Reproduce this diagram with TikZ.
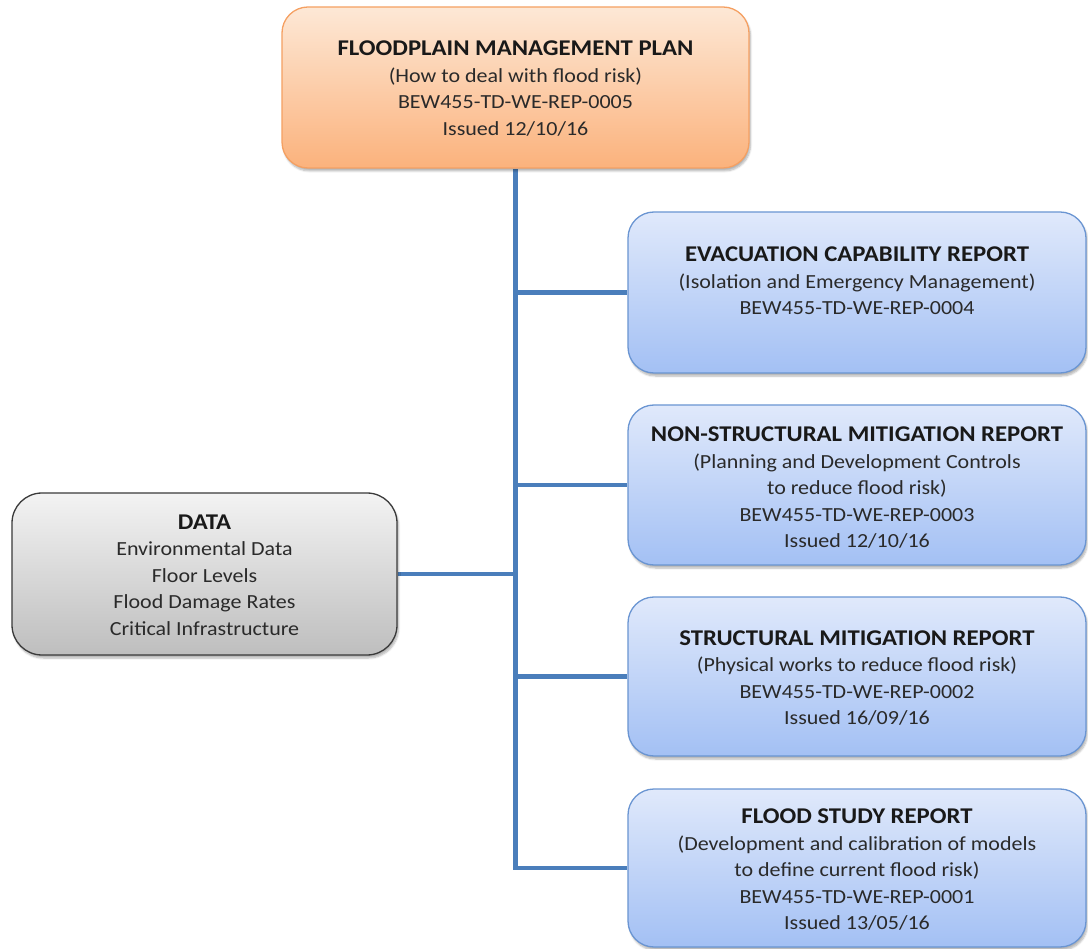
\documentclass[tikz,border=0pt]{standalone}
\usepackage{fontspec}
\setmainfont{Carlito}[FakeStretch=1.1]
\usetikzlibrary{shadows.blur,backgrounds}
\definecolor{orTop}{HTML}{FDE8D6}
\definecolor{orBot}{HTML}{FBB27C}
\definecolor{orLine}{HTML}{F5A062}
\definecolor{blTop}{HTML}{E0E9FB}
\definecolor{blBot}{HTML}{A3C0F4}
\definecolor{blLine}{HTML}{6A95D2}
\definecolor{grTop}{HTML}{F3F3F3}
\definecolor{grBot}{HTML}{BEBEBE}
\definecolor{grLine}{HTML}{3A3A3A}
\definecolor{conn}{HTML}{4A7EBB}
\definecolor{txtc}{HTML}{2A2A2A}
\begin{document}
\begin{tikzpicture}[x=1pt,y=-1pt,
  boxbase/.style={rounded corners=26pt, line width=1.3pt,
    blur shadow={shadow xshift=1.5pt, shadow yshift=-3pt, shadow blur steps=6, shadow opacity=30}},
  orbox/.style={boxbase, draw=orLine, top color=orTop, bottom color=orBot},
  blbox/.style={boxbase, draw=blLine, top color=blTop, bottom color=blBot},
  grbox/.style={boxbase, rounded corners=30pt, draw=grLine, top color=grTop, bottom color=grBot},
  txt/.style={align=center, inner sep=0pt, text=txtc, font=\fontsize{20}{26.5}\selectfont},
  connector/.style={draw=conn, line width=4.5pt}]
\useasboundingbox (0,0) rectangle (1088,949);

\node[orbox, minimum width=467pt, minimum height=161pt] (top) at (515.5,87.5) {};
\node[blbox, minimum width=458pt, minimum height=161pt] (b1) at (857,292.5) {};
\node[blbox, minimum width=458pt, minimum height=160pt] (b2) at (857,485) {};
\node[blbox, minimum width=458pt, minimum height=159pt] (b3) at (857,676.5) {};
\node[blbox, minimum width=458pt, minimum height=158pt] (b4) at (857,868) {};
\node[grbox, minimum width=385pt, minimum height=162pt] (data) at (204.5,574) {};

\newcommand{\ttl}[1]{{\bfseries\color{black!90}\fontsize{22.5}{26.5}\selectfont #1}}

\node[txt] (t0) at (top.center) [yshift=-1pt] {\ttl{FLOODPLAIN MANAGEMENT PLAN}\\(How to deal with flood risk)\\BEW455-TD-WE-REP-0005\\Issued 12/10/16};
\node[txt] (t1) at (b1.center) [yshift=11.5pt] {\ttl{EVACUATION CAPABILITY REPORT}\\(Isolation and Emergency Management)\\BEW455-TD-WE-REP-0004};
\node[txt] (t2) at (b2.center) [yshift=-3pt] {\ttl{NON-STRUCTURAL MITIGATION REPORT}\\(Planning and Development Controls\\to reduce flood risk)\\BEW455-TD-WE-REP-0003\\Issued 12/10/16};
\node[txt] (t3) at (b3.center) [yshift=-1.5pt] {\ttl{STRUCTURAL MITIGATION REPORT}\\(Physical works to reduce flood risk)\\BEW455-TD-WE-REP-0002\\Issued 16/09/16};
\node[txt] (t4) at (b4.center) [yshift=-2pt] {\ttl{FLOOD STUDY REPORT}\\(Development and calibration of models\\to define current flood risk)\\BEW455-TD-WE-REP-0001\\Issued 13/05/16};
\node[txt] (td) at (data.center) [yshift=-1pt] {\ttl{DATA}\\Environmental Data\\Floor Levels\\Flood Damage Rates\\Critical Infrastructure};

\begin{scope}[on background layer]
  \draw[connector] (top.south) -- (top.south |- b4.west) -- (b4.west);
  \draw[connector] (top.south |- b1.west) -- (b1.west);
  \draw[connector] (top.south |- b2.west) -- (b2.west);
  \draw[connector] (top.south |- b3.west) -- (b3.west);
  \draw[connector] (data.east) -- (top.south |- data.east);
\end{scope}
\end{tikzpicture}
\end{document}
